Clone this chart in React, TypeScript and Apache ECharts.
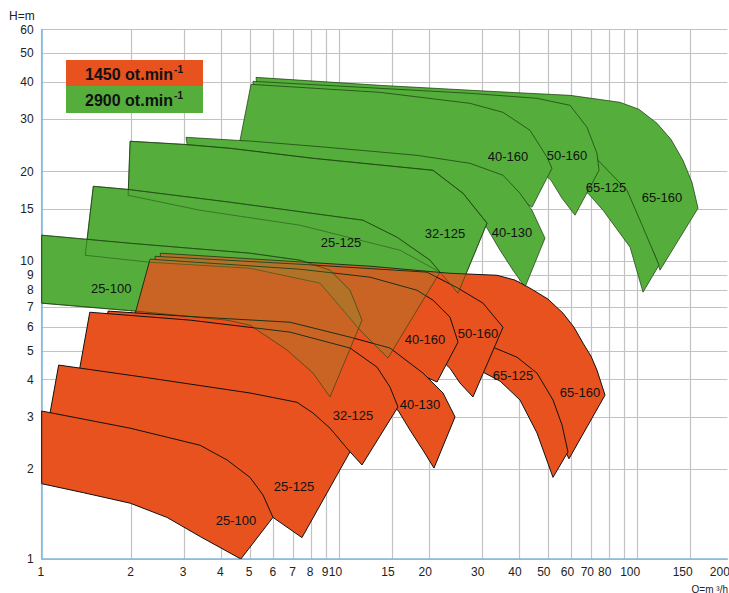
import React, { useEffect, useRef } from 'react';
import * as echarts from 'echarts';

type Pt = [number, number];

// Axis ticks / labels
const xGridValues = [1, 2, 3, 4, 5, 6, 7, 8, 9, 10, 15, 20, 30, 40, 50, 60, 70, 80, 90, 100, 150];
const xLabelValues = [1, 2, 3, 4, 5, 6, 7, 8, 9, 10, 15, 20, 30, 40, 50, 60, 70, 80, 100, 150, 200];
const yGridValues = [1, 2, 3, 4, 5, 6, 7, 8, 9, 10, 15, 20, 30, 40, 50, 60];
const yLabelValues = [1, 2, 3, 4, 5, 6, 7, 8, 9, 10, 15, 20, 30, 40, 50, 60];

const pumpNames = ['25-100', '25-125', '32-125', '40-130', '40-160', '50-160', '65-125', '65-160'];

// 1450 rpm envelopes [Q m3/h, H m]
const r25_100: Pt[] = [[1.0, 3.14], [1.98, 2.75], [3.4, 2.41], [4.19, 2.15], [5.0, 1.88], [5.53, 1.64], [5.97, 1.38], [4.66, 1.0], [3.4, 1.19], [2.63, 1.38], [1.98, 1.54], [1.38, 1.67], [1.0, 1.79]];
const r25_125: Pt[] = [[1.14, 4.48], [2.31, 4.05], [5.0, 3.61], [7.19, 3.36], [8.14, 3.09], [9.28, 2.75], [10.02, 2.51], [10.83, 2.29], [7.47, 1.18], [5.97, 1.38], [4.29, 1.64], [2.31, 1.99], [1.02, 2.41]];
const r32_125: Pt[] = [[1.45, 6.74], [3.15, 6.34], [6.81, 5.78], [10.83, 5.11], [13.34, 4.41], [14.75, 3.78], [15.69, 3.24], [11.88, 2.07], [10.83, 2.29], [7.36, 2.71], [3.4, 3.16], [1.57, 3.63], [1.32, 3.99]];
const r40_130: Pt[] = [[1.67, 6.8], [3.4, 6.49], [6.81, 6.24], [10.83, 5.56], [14.75, 5.11], [19.03, 4.21], [22.22, 3.61], [24.38, 3.0], [20.72, 2.02], [19.03, 2.32], [17.21, 2.71], [15.69, 3.16], [10.83, 3.84], [5.0, 4.37], [2.31, 4.58], [1.57, 4.65]];
const r40_160: Pt[] = [[2.31, 10.16], [7.36, 9.4], [12.64, 8.84], [18.17, 7.99], [20.56, 7.4], [23.45, 6.49], [24.95, 5.35], [21.21, 3.93], [15.93, 4.48], [7.36, 5.23], [3.4, 5.87], [2.03, 6.34]];
const r50_160: Pt[] = [[2.4, 10.39], [7.36, 9.77], [19.63, 9.19], [24.95, 8.12], [30.27, 7.23], [35.32, 6.0], [28.0, 3.5], [25.33, 3.9], [23.45, 4.37], [18.6, 5.43], [10.83, 6.85], [5.0, 7.69], [2.44, 7.99]];
const r65_125: Pt[] = [[2.59, 9.19], [5.0, 8.31], [10.83, 7.51], [23.45, 5.87], [33.2, 5.11], [39.36, 4.76], [45.93, 4.21], [51.98, 3.42], [55.72, 2.82], [58.35, 2.29], [51.98, 1.88], [45.93, 2.65], [40.27, 3.42], [34.51, 3.96], [30.27, 4.24], [23.45, 4.73], [10.83, 7.12], [5.0, 7.99], [2.59, 8.37]];
const r65_160: Pt[] = [[2.5, 10.64], [12.64, 9.62], [23.45, 9.11], [33.72, 8.97], [38.75, 8.64], [43.51, 8.12], [50.0, 7.46], [56.16, 6.69], [61.13, 6.0], [65.52, 5.31], [69.7, 4.8], [73.0, 4.31], [77.68, 3.55], [58.8, 2.17], [54.87, 2.51], [48.86, 3.16], [40.27, 3.99], [31.94, 4.65], [25.33, 5.43], [10.83, 7.4], [2.7, 8.64], [2.53, 8.64]];

// 2900 rpm envelopes [Q m3/h, H m]
const g25_100: Pt[] = [[1.0, 12.23], [1.98, 11.49], [5.0, 10.64], [7.36, 10.08], [9.28, 9.33], [10.83, 7.99], [11.88, 6.34], [9.28, 3.5], [8.14, 4.21], [6.66, 5.03], [5.0, 6.1], [4.19, 6.34], [2.06, 6.8], [1.0, 7.23]];
const g25_125: Pt[] = [[1.49, 17.85], [1.93, 17.44], [4.29, 15.78], [11.97, 13.73], [15.57, 12.04], [20.09, 10.08], [21.71, 9.19], [14.52, 4.73], [11.7, 5.87], [8.59, 8.44], [5.0, 9.47], [2.31, 9.92], [1.4, 10.47]];
const g32_125: Pt[] = [[1.98, 25.28], [2.98, 24.69], [4.29, 23.94], [8.14, 22.16], [20.56, 20.2], [25.93, 16.91], [31.22, 13.42], [24.95, 7.81], [21.71, 9.19], [15.93, 10.89], [7.36, 13.21], [3.4, 14.83], [1.95, 16.65]];
const g40_130: Pt[] = [[3.05, 26.07], [5.12, 25.28], [9.07, 24.13], [18.17, 22.68], [27.36, 21.32], [35.32, 19.44], [40.27, 16.91], [44.19, 14.83], [48.86, 11.95], [41.86, 8.18], [38.15, 9.33], [34.51, 10.89], [30.97, 13.1], [21.71, 16.02], [10.83, 18.7], [5.0, 20.2], [3.15, 21.0]];
const g40_160: Pt[] = [[5.04, 39.26], [13.65, 36.91], [27.36, 33.9], [35.32, 31.62], [43.51, 27.52], [49.62, 22.34], [51.57, 20.52], [44.19, 15.18], [34.51, 17.99], [18.6, 21.0], [9.28, 22.68], [4.56, 23.58]];
const g50_160: Pt[] = [[5.12, 40.18], [13.65, 38.07], [27.36, 36.63], [45.93, 35.24], [59.27, 33.38], [67.6, 28.17], [73.0, 23.03], [74.17, 20.2], [61.6, 14.27], [55.72, 16.27], [51.17, 18.7], [40.27, 23.58], [18.6, 29.73], [9.28, 32.61], [5.12, 34.7]];
const g65_125: Pt[] = [[5.32, 37.49], [23.45, 34.7], [54.87, 29.73], [69.17, 24.5], [73.6, 21.82], [92.06, 17.31], [104.2, 13.0], [117.9, 9.7], [104.2, 7.87], [94.3, 11.14], [76.5, 14.83], [68.1, 16.91], [54.87, 18.7], [23.45, 30.9], [5.32, 35.78]];
const g65_160: Pt[] = [[5.24, 41.44], [13.65, 38.96], [31.94, 37.2], [59.27, 36.06], [87.2, 34.17], [101.0, 32.37], [116.1, 29.05], [129.3, 25.67], [141.9, 21.82], [152.1, 18.41], [159.4, 15.06], [118.8, 9.33], [114.3, 10.47], [97.9, 14.27], [80.72, 18.7], [69.17, 23.58], [34.51, 30.9], [7.36, 34.7], [5.32, 34.7]];

// label anchor positions (same order as pumpNames)
const redLabelPos: Pt[] = [[4.49, 1.35], [7.03, 1.745], [11.08, 3.04], [18.6, 3.31], [19.33, 5.47], [29.12, 5.73], [38.15, 4.14], [64.0, 3.61]];
const greenLabelPos: Pt[] = [[1.71, 8.12], [10.1, 11.58], [22.56, 12.41], [37.86, 12.51], [36.71, 22.5], [57.9, 22.69], [78.3, 17.71], [120.6, 16.4]];

const RED = '#E8521F';
const GREEN = '#55AE3B';
const FONT = "'Liberation Sans', Arial, sans-serif";

function polySeries(shapes: Pt[][], fill: string, stroke: string, lineWidth: number, z: number) {
  return {
    type: 'custom',
    coordinateSystem: 'cartesian2d',
    silent: true,
    clip: true,
    z,
    data: shapes.map((s, i) => [s[0][0], s[0][1], i]),
    encode: { x: 0, y: 1 },
    renderItem: (params: any, api: any) => {
      const s = shapes[params.dataIndex];
      return {
        type: 'polygon',
        shape: { points: s.map((p) => api.coord(p)) },
        style: { fill, stroke, lineWidth, lineJoin: 'miter' },
      };
    },
  };
}

function labelSeries(pos: Pt[], z: number) {
  return {
    type: 'custom',
    coordinateSystem: 'cartesian2d',
    silent: true,
    z,
    data: pos.map((p, i) => [p[0], p[1], i]),
    encode: { x: 0, y: 1 },
    renderItem: (params: any, api: any) => {
      const p = pos[params.dataIndex];
      const c = api.coord(p);
      return {
        type: 'text',
        x: c[0],
        y: c[1],
        style: {
          text: pumpNames[params.dataIndex],
          fill: '#111',
          fontSize: 13,
          fontFamily: FONT,
          align: 'center',
          verticalAlign: 'middle',
        },
      };
    },
  };
}

export default function App() {
  const ref = useRef<HTMLDivElement>(null);
  useEffect(() => {
    if (!ref.current) return;
    const chart = echarts.init(ref.current, undefined, { renderer: 'svg' });
    const gridLine = { show: true, lineStyle: { color: '#c2c2c2', width: 1.2 } };
    const axisLine = { show: true, onZero: false, lineStyle: { color: '#82b8de', width: 1.6 } };
    const sup = { fontSize: 10, fontWeight: 'bold', fontFamily: FONT, fill: '#111', lineHeight: 20, verticalAlign: 'top', padding: [0, 0, 0, 1] };
    const main = { fontSize: 16, fontWeight: 'bold', fontFamily: FONT, fill: '#111', lineHeight: 20 };
    const option: any = {
      animation: false,
      backgroundColor: '#ffffff',
      grid: { left: 41.7, right: 1.6, top: 29.5, bottom: 34, containLabel: false, outerBoundsMode: 'none' },
      xAxis: {
        type: 'log',
        logBase: 10,
        min: 1,
        max: 200,
        axisLine,
        axisTick: { show: false, customValues: xGridValues },
        axisLabel: {
          customValues: xLabelValues,
          formatter: (v: number) => String(Math.round(v)),
          color: '#222',
          fontSize: 12,
          fontFamily: FONT,
          margin: 7,
          align: 'right',
          padding: [0, -2.5, 0, 0],
          alignMaxLabel: 'right',
        },
        splitLine: gridLine,
        minorTick: { show: false },
        minorSplitLine: { show: false },
      },
      yAxis: {
        type: 'log',
        logBase: 10,
        min: 1,
        max: 60,
        axisLine,
        axisTick: { show: false, customValues: yGridValues },
        axisLabel: {
          customValues: yLabelValues,
          formatter: (v: number) => String(Math.round(v)),
          color: '#222',
          fontSize: 12,
          fontFamily: FONT,
          margin: 8,
        },
        splitLine: gridLine,
      },
      graphic: [
        { type: 'rect', x: 66, y: 60, shape: { width: 137, height: 26 }, style: { fill: RED }, z: 100 },
        { type: 'rect', x: 66, y: 86, shape: { width: 137, height: 27 }, style: { fill: GREEN }, z: 100 },
        {
          type: 'text', x: 134, y: 74, z: 101,
          style: { text: '{a|1450 ot.min}{b|-1}', align: 'center', verticalAlign: 'middle', rich: { a: main, b: sup } },
        },
        {
          type: 'text', x: 134, y: 100, z: 101,
          style: { text: '{a|2900 ot.min}{b|-1}', align: 'center', verticalAlign: 'middle', rich: { a: main, b: sup } },
        },
        { type: 'text', x: 9, y: 16, style: { text: 'H=m', fontSize: 12, fontFamily: FONT, fill: '#222', verticalAlign: 'middle' } },
        { type: 'text', x: 728, y: 589, style: { text: 'Q=m ³/h', fontSize: 10, fontFamily: FONT, fill: '#222', align: 'right', verticalAlign: 'middle' } },
      ],
      series: [
        polySeries([g65_160, g65_125, g50_160, g40_160, g40_130], GREEN, 'rgba(25,60,15,0.9)', 0.8, 2),
        polySeries([g32_125, g25_125, g25_100], GREEN, 'rgba(25,60,15,0.9)', 0.8, 3),
        polySeries([r65_160, r65_125, r50_160, r40_160, r40_130, r32_125, r25_125, r25_100], RED, '#111', 1, 4),
        polySeries([g32_125, g25_125, g25_100], 'rgba(85,174,59,0.2)', 'rgba(25,60,15,0.75)', 0.8, 5),
        labelSeries(redLabelPos, 10),
        labelSeries(greenLabelPos, 10),
      ],
    };
    chart.setOption(option);
    return () => chart.dispose();
  }, []);
  return <div ref={ref} style={{ position: 'fixed', left: 0, top: 0, width: 729, height: 593, background: '#fff' }} />;
}
